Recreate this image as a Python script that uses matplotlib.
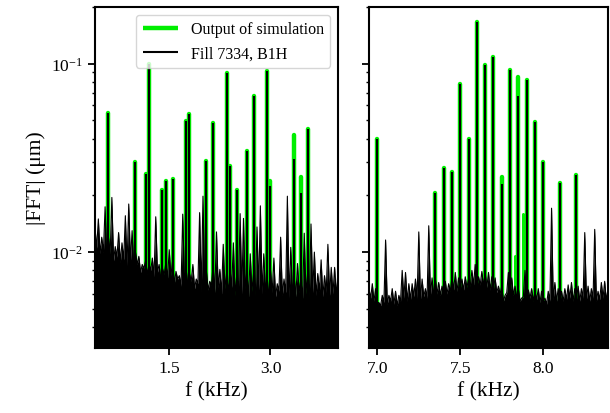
import numpy as np
import matplotlib
matplotlib.use("Agg")
import matplotlib.pyplot as plt

plt.rcParams['font.family'] = ['Liberation Serif', 'DejaVu Serif']
plt.rcParams['mathtext.fontset'] = 'stix'

# Peaks (kHz, |FFT| in um), left window
peak_f_left = [0.60, 1.00, 1.15, 1.20, 1.40, 1.45, 1.55, 1.75, 1.80, 2.05, 2.15,
               2.35, 2.40, 2.50, 2.65, 2.75, 2.95, 3.00, 3.35, 3.45, 3.55]
meas_left = [0.055, 0.030, 0.026, 0.099, 0.0213, 0.0238, 0.0243, 0.0499, 0.0543, 0.0303, 0.0482,
             0.0896, 0.0285, 0.0214, 0.0342, 0.0677, 0.0918, 0.0223, 0.031, 0.0207, 0.0448]
sim_left = [0.055, 0.030, 0.026, 0.099, 0.0213, 0.0238, 0.0243, 0.0499, 0.0543, 0.0303, 0.0482,
            0.0896, 0.0285, 0.0214, 0.0342, 0.0677, 0.0918, 0.0238, 0.042, 0.0249, 0.0448]

# Peaks, right window
peak_f_right = [7.00, 7.35, 7.40, 7.45, 7.50, 7.55, 7.60, 7.65, 7.70,
                7.75, 7.80, 7.85, 7.90, 7.95, 8.00, 8.10, 8.20]
meas_right = [0.040, 0.0207, 0.0278, 0.0266, 0.078, 0.0397, 0.166, 0.0988, 0.109,
              0.0229, 0.092, 0.0677, 0.0823, 0.0489, 0.0299, 0.0234, 0.0257]
sim_right = [0.040, 0.0207, 0.0278, 0.0266, 0.078, 0.0397, 0.166, 0.0988, 0.109,
             0.025, 0.092, 0.085, 0.0823, 0.0489, 0.0299, 0.0234, 0.0257]
sim_extra_f = [7.83, 7.875]
sim_extra = [0.0095, 0.0160]

# measured noise: spike tops on a 0.05 kHz grid, floor in between
noise_top_left = [
    0.0135, 0.0150, 0.0120, 0.0174, 0.0120, 0.0195, 0.0107, 0.0127, 0.0112, 0.0156,
    0.0180, 0.0130, 0.0100, 0.0095, 0.0086, 0.0090, 0.0087, 0.0093, 0.0154, 0.0086,
    0.0082, 0.0088, 0.0103, 0.0090, 0.0079, 0.0075, 0.0159, 0.0082, 0.0077, 0.0086,
    0.0072, 0.0162, 0.0198, 0.0080, 0.0070, 0.0085, 0.0128, 0.0081, 0.0110, 0.0078,
    0.0082, 0.0112, 0.0076, 0.0160, 0.0151, 0.0080, 0.0098, 0.0078, 0.0136, 0.0176,
    0.0098, 0.0075, 0.0080, 0.0093, 0.0068, 0.0120, 0.0072, 0.0198, 0.0106, 0.0075,
    0.0087, 0.0072, 0.0126, 0.0078, 0.0141, 0.0100, 0.0077, 0.0091, 0.0075, 0.0110,
    0.0083, 0.0083, 0.0080]
noise_floor_left = [
    0.0105, 0.0098, 0.0100, 0.0092, 0.0098, 0.0090, 0.0094, 0.0088, 0.0091, 0.0085,
    0.0089, 0.0083, 0.0086, 0.0078, 0.0082, 0.0076, 0.0080, 0.0074, 0.0078, 0.0072,
    0.0076, 0.0073, 0.0075, 0.0068, 0.0072, 0.0066, 0.0071, 0.0067, 0.0070, 0.0064,
    0.0068, 0.0062, 0.0066, 0.0063, 0.0067, 0.0061, 0.0065, 0.0060, 0.0064, 0.0061,
    0.0065, 0.0059, 0.0063, 0.0060, 0.0064, 0.0058, 0.0062, 0.0059, 0.0063, 0.0060,
    0.0062, 0.0057, 0.0061, 0.0058, 0.0062, 0.0059, 0.0061, 0.0057, 0.0060, 0.0058,
    0.0061, 0.0057, 0.0060, 0.0058, 0.0061, 0.0059, 0.0062, 0.0058, 0.0061, 0.0059,
    0.0060, 0.0058]

# right window: tops on a 0.02 kHz grid from 6.95
noise_top_right = [
    0.0064, 0.0068, 0.0064, 0.0054, 0.0059, 0.0116, 0.0059, 0.0064, 0.0062, 0.0059,
    0.0080, 0.0078, 0.0068, 0.0068, 0.0072, 0.0128, 0.0072, 0.0064, 0.0138, 0.0073,
    0.0072, 0.0069, 0.0066, 0.0070, 0.0068, 0.0074, 0.0078, 0.0073, 0.0072, 0.0074,
    0.0072, 0.0080, 0.0086, 0.0074, 0.0079, 0.0078, 0.0078, 0.0074, 0.0073, 0.0066,
    0.0066, 0.0059, 0.0078, 0.0073, 0.0066, 0.0064, 0.0057, 0.0080, 0.0063, 0.0064,
    0.0062, 0.0064, 0.0062, 0.0057, 0.0062, 0.0171, 0.0069, 0.0064, 0.0062, 0.0064,
    0.0067, 0.0069, 0.0064, 0.0066, 0.0064, 0.0127, 0.0066, 0.0064, 0.0132, 0.0062,
    0.0069, 0.0070, 0.0064]
noise_floor_right = [
    0.0057, 0.0055, 0.0054, 0.0052, 0.0054, 0.0053, 0.0055, 0.0053, 0.0052, 0.0055,
    0.0057, 0.0055, 0.0056, 0.0058, 0.0057, 0.0056, 0.0058, 0.0057, 0.0059, 0.0058,
    0.0060, 0.0059, 0.0061, 0.0060, 0.0062, 0.0063, 0.0062, 0.0064, 0.0063, 0.0065,
    0.0066, 0.0067, 0.0065, 0.0067, 0.0066, 0.0065, 0.0063, 0.0064, 0.0061, 0.0060,
    0.0055, 0.0061, 0.0060, 0.0059, 0.0057, 0.0055, 0.0058, 0.0056, 0.0057, 0.0055,
    0.0056, 0.0054, 0.0055, 0.0053, 0.0055, 0.0056, 0.0055, 0.0054, 0.0055, 0.0056,
    0.0057, 0.0055, 0.0056, 0.0055, 0.0057, 0.0056, 0.0055, 0.0057, 0.0055, 0.0056,
    0.0057, 0.0055]

ymin, ymax = 0.0031, 0.2
green = '#00ee00'


def noise_curve(f0, step, top, floor):
    f_top = f0 + step * np.arange(len(top))
    f_floor = f_top[:-1] + step / 2
    f = np.concatenate([f_top, f_floor])
    a = np.concatenate([top, floor])
    order = np.argsort(f)
    return f[order], a[order]


def draw(ax, pf, meas, sim, nf, na, label=True):
    ax.vlines(pf, ymin, sim, color=green, lw=3.2, capstyle='round', zorder=1,
              label='Output of simulation' if label else None)
    ax.fill_between(nf, ymin, na, color='k', lw=0, zorder=2)
    ax.plot(nf, na, color='k', lw=0.8, zorder=2)
    ax.vlines(pf, ymin, meas, color='k', lw=1.5, zorder=3,
              label='Fill 7334, B1H' if label else None)


fig = plt.figure(figsize=(6.1, 4.14), dpi=100)
ax1 = fig.add_axes([0.1557, 0.157, 0.3984, 0.824])
ax2 = fig.add_axes([0.6049, 0.157, 0.3918, 0.824], sharey=ax1)

nf, na = noise_curve(0.40, 0.05, noise_top_left, noise_floor_left)
draw(ax1, peak_f_left, meas_left, sim_left, nf, na)

nf, na = noise_curve(6.95, 0.02, noise_top_right, noise_floor_right)
ax2.vlines(sim_extra_f, ymin, sim_extra, color=green, lw=2.2, capstyle='round', zorder=1)
draw(ax2, peak_f_right, meas_right, sim_right, nf, na, label=False)

ax1.set_yscale('log')
ax1.set_ylim(ymin, ymax)
ax1.set_xlim(0.40, 4.0)
ax2.set_xlim(6.95, 8.39)
ax1.set_xticks([1.5, 3.0])
ax2.set_xticks([7.0, 7.5, 8.0])
ax1.set_xticklabels(['1.5', '3.0'])
ax2.set_xticklabels(['7.0', '7.5', '8.0'])
plt.setp(ax2.get_yticklabels(), visible=False)

for ax in (ax1, ax2):
    ax.set_xlabel('f (kHz)', fontsize=15.5)
    ax.tick_params(which='major', labelsize=12.5, length=5, width=1.3)
    ax.tick_params(which='minor', length=2.5, width=1)
    for s in ax.spines.values():
        s.set_linewidth(1.5)

ax1.set_ylabel('|FFT| (μm)', fontsize=15.5)
ax1.legend(loc='upper right', fontsize=11.5, handlelength=2.2)

fig.savefig('out.png', dpi=100)
